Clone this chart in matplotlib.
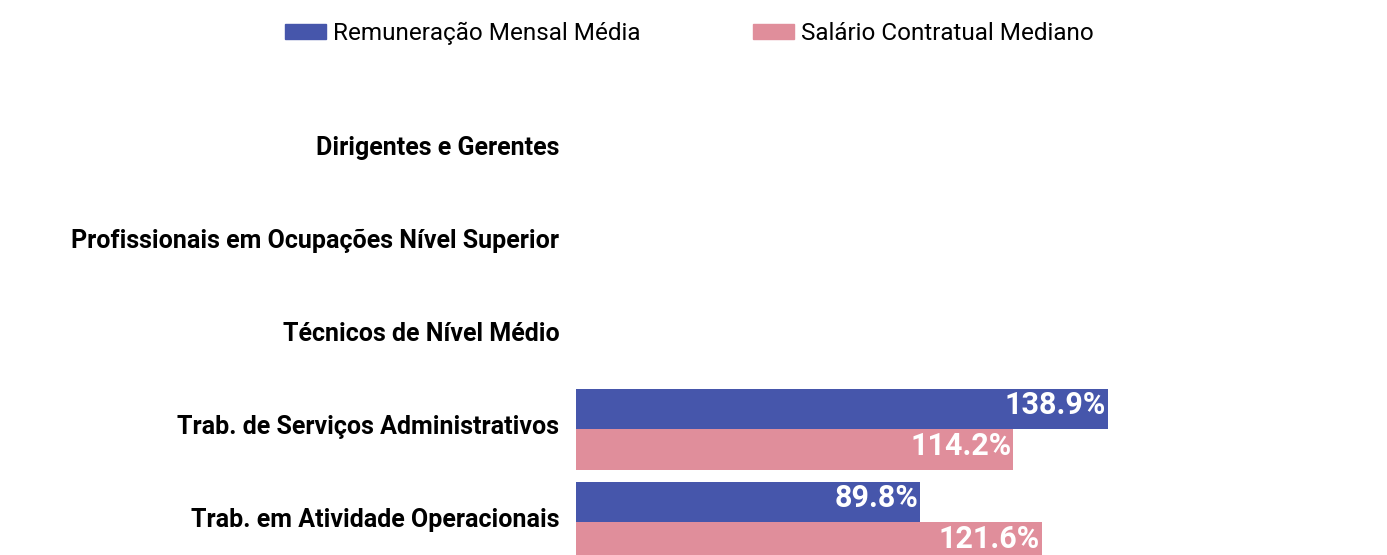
import numpy as np
import matplotlib.pyplot as plt
from matplotlib.patches import Patch
from matplotlib.transforms import ScaledTranslation

plt.rcParams['font.family'] = ['Roboto', 'DejaVu Sans']

# DATA
categories = [
    'Dirigentes e Gerentes',
    'Profissionais em Ocupações Nível Superior',
    'Técnicos de Nível Médio',
    'Trab. de Serviços Administrativos',
    'Trab. em Atividade Operacionais',
]
remuneracao = [np.nan, np.nan, np.nan, 138.9, 89.8]
salario = [np.nan, np.nan, np.nan, 114.2, 121.6]
series_names = ['Remuneração Mensal Média', 'Salário Contratual Mediano']

blue = '#4656AB'
pink = '#E08E9B'

W, H = 1387, 555
fig = plt.figure(figsize=(W / 100, H / 100), dpi=100)
ax = fig.add_axes([576 / W, 0, 1 - 576 / W, (555 - 70) / H])

y = np.arange(len(categories))
h = 0.44
for vals, off, col in [(remuneracao, -h / 2, blue), (salario, h / 2, pink)]:
    for yi, v in zip(y, vals):
        if np.isnan(v):
            continue
        ax.barh(yi + off, v, height=h, color=col, linewidth=0)
        ax.text(v - 0.5, yi + off - 0.04, f'{v:.1f}%', ha='right', va='center',
                color='white', fontsize=22, fontweight='bold')

ax.set_xlim(0, (W - 576) / 3.83)
ax.set_ylim(4.35, -0.866)
ax.set_yticks(y)
ax.set_yticklabels(categories, fontsize=18, fontweight='bold')
ax.tick_params(axis='y', length=0, pad=12)
shift = ScaledTranslation(0, 5 / 100, fig.dpi_scale_trans)
for lab in ax.get_yticklabels():
    lab.set_transform(lab.get_transform() + shift)
ax.set_xticks([])
for s in ax.spines.values():
    s.set_visible(False)

handles = [Patch(color=blue), Patch(color=pink)]
fig.legend(handles, series_names, loc='upper center', bbox_to_anchor=(0.497, 1.0),
           ncol=2, frameon=False, fontsize=17.5, handlelength=1.7, handleheight=0.6,
           handletextpad=0.3, columnspacing=4.6)

fig.savefig('out.png', dpi=100)
